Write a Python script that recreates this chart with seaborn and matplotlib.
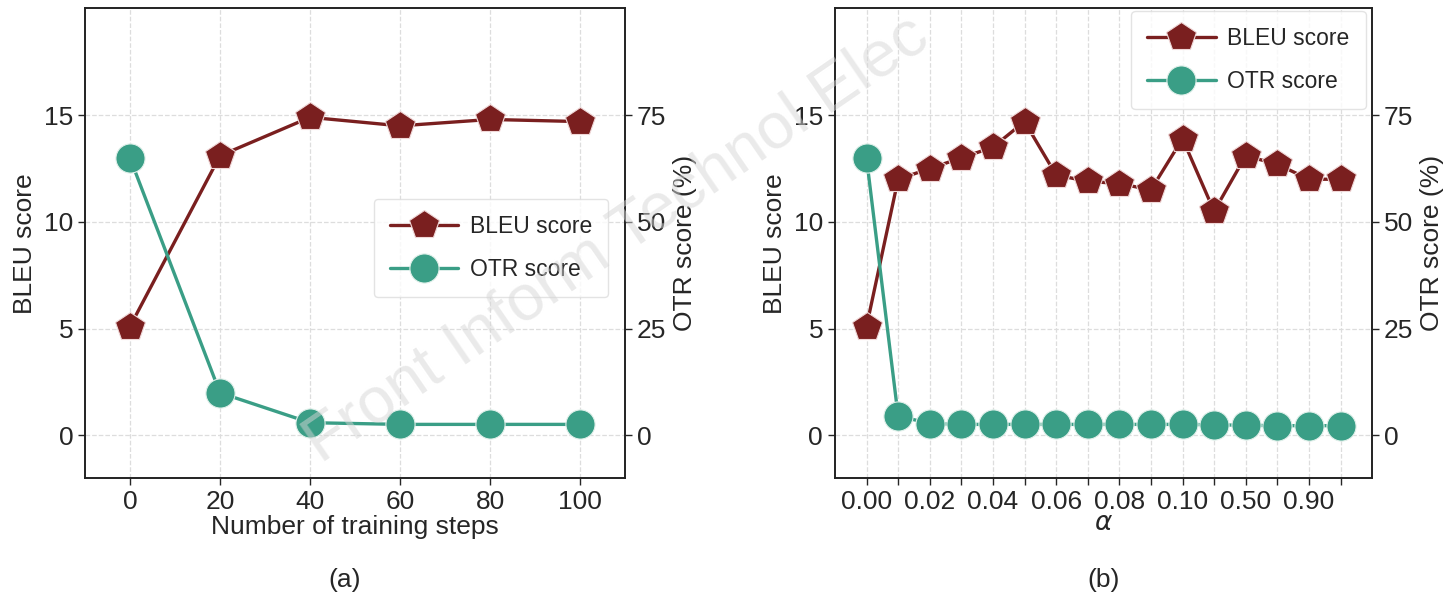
import matplotlib
matplotlib.use("Agg")
import matplotlib.pyplot as plt
import seaborn as sns
import pandas as pd

# data
steps = [0, 20, 40, 60, 80, 100]
bleu_steps = [5.1, 13.1, 14.9, 14.5, 14.8, 14.7]
otr_steps = [65.0, 10.0, 3.0, 2.6, 2.6, 2.6]

alpha_labels = ["0.00", "0.01", "0.02", "0.03", "0.04", "0.05", "0.06", "0.07",
                "0.08", "0.09", "0.10", "0.30", "0.50", "0.70", "0.90", "1.00"]
bleu_alpha = [5.1, 12.0, 12.5, 13.0, 13.5, 14.7, 12.2, 11.9, 11.8, 11.5, 13.9,
              10.5, 13.1, 12.7, 12.0, 12.0]
otr_alpha = [65.0, 4.6, 2.8, 2.6, 2.6, 2.6, 2.6, 2.6, 2.6, 2.6, 2.6, 2.5, 2.4,
             2.3, 2.3, 2.3]

red = "#7a1f1f"
teal = "#3a9e86"
FS = 19

sns.set_style("ticks")
plt.rcParams['font.family'] = ['Liberation Sans', 'DejaVu Sans']
plt.rcParams['mathtext.fontset'] = 'dejavusans'

fig = plt.figure(figsize=(14.52, 6), dpi=100)
ax1 = fig.add_axes([0.0585, 0.203, 0.372, 0.783])
ax2 = fig.add_axes([0.575, 0.203, 0.370, 0.783])

df_a = pd.DataFrame({'x': steps, 'bleu': bleu_steps, 'otr': otr_steps})
df_b = pd.DataFrame({'x': range(len(alpha_labels)), 'bleu': bleu_alpha, 'otr': otr_alpha})


def draw(ax, df, xlim, legend_loc, legend_anchor, pad):
    ax.grid(True, linestyle='--', color='#dddddd', linewidth=0.9)
    ax.set_axisbelow(True)
    sns.lineplot(data=df, x='x', y='bleu', ax=ax, color=red, linewidth=2.4,
                 marker='p', markersize=22, markeredgecolor='#f0d8d8',
                 markeredgewidth=0.8, label='BLEU score', legend=False)
    twin = ax.twinx()
    sns.lineplot(data=df, x='x', y='otr', ax=twin, color=teal, linewidth=2.4,
                 marker='o', markersize=21, markeredgecolor='#e0f0ea',
                 markeredgewidth=0.8, label='OTR score', legend=False)
    ax.set_ylim(-2, 20)
    twin.set_ylim(-10, 100)
    ax.set_yticks([0, 5, 10, 15])
    twin.set_yticks([0, 25, 50, 75])
    ax.set_xlim(*xlim)
    ax.set_ylabel('BLEU score', fontsize=FS, labelpad=5)
    twin.set_ylabel('OTR score (%)', fontsize=FS, labelpad=5)
    for a in (ax, twin):
        a.tick_params(labelsize=FS, length=5, width=1)
        for s in a.spines.values():
            s.set_visible(True)
            s.set_color('#222222')
            s.set_linewidth(1.2)
    h1, l1 = ax.get_legend_handles_labels()
    h2, l2 = twin.get_legend_handles_labels()
    leg = twin.legend(h1 + h2, l1 + l2, loc=legend_loc, bbox_to_anchor=legend_anchor,
                      fontsize=16.5, frameon=True, borderpad=0.7, labelspacing=0.9,
                      handlelength=3.0, handletextpad=0.5, fancybox=True,
                      borderaxespad=pad)
    leg.get_frame().set_edgecolor('#dddddd')
    leg.set_zorder(10)
    return twin


draw(ax1, df_a, (-10, 110), 'center right', (0.99, 0.49), 0.5)
ax1.set_xticks(steps)
ax1.set_xlabel('Number of training steps', fontsize=FS, labelpad=1)

draw(ax2, df_b, (-1, 16), 'upper right', (0.992, 1.0), 0.1)
ax2.set_xticks(range(len(alpha_labels)))
ax2.set_xticklabels([l if i % 2 == 0 else '' for i, l in enumerate(alpha_labels)])
ax2.set_xlabel(r'$\alpha$', fontsize=FS, labelpad=-2)

fig.text(0.2375, 0.033, '(a)', ha='center', va='center', fontsize=FS)
fig.text(0.76, 0.033, '(b)', ha='center', va='center', fontsize=FS)

# faint watermark
fig.text(0.425, 0.6, 'Front Inform Technol Elec', ha='center', va='center',
         rotation=34.5, fontsize=47, color='#d6d6d6', alpha=0.5, zorder=20)

fig.savefig('out.png', dpi=100)
